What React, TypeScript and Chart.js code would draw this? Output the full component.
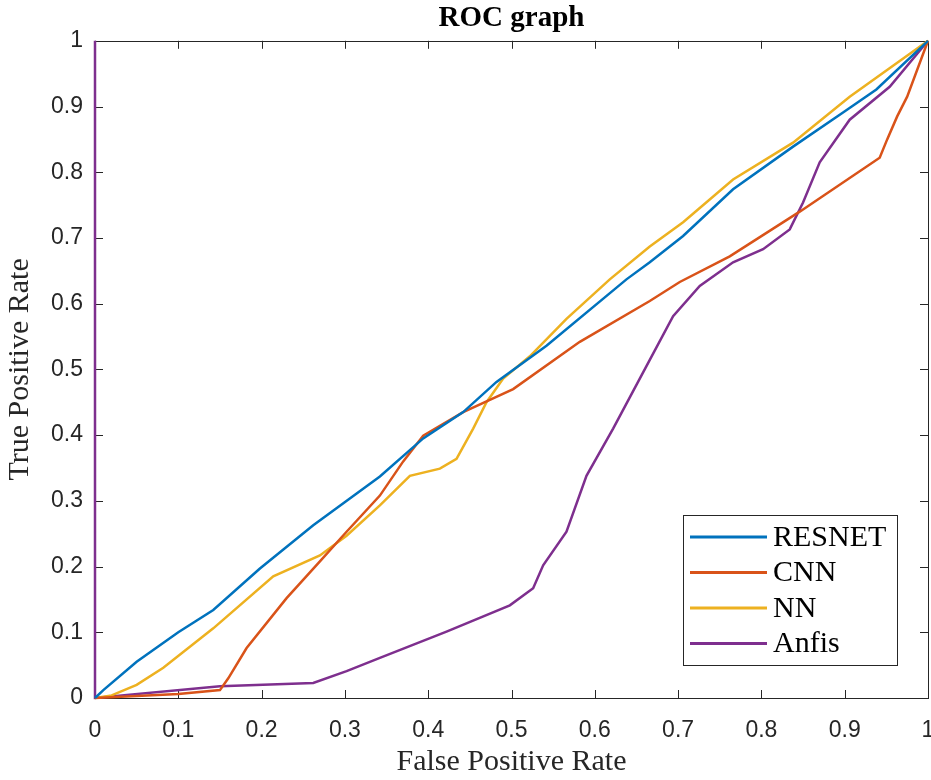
import React, { useEffect, useRef } from "react";
import { Chart, registerables } from "chart.js";

Chart.register(...registerables);

const seriesNames = ["RESNET", "CNN", "NN", "Anfis"];
const seriesColors = ["#0072BD", "#D95319", "#EDB120", "#7E2F8E"];

const resnetX = [0, 0.01, 0.05, 0.1, 0.142, 0.198, 0.262, 0.342, 0.394, 0.442, 0.482, 0.542, 0.638, 0.666, 0.706, 0.766, 0.838, 0.898, 0.938, 1];
const resnetY = [0, 0.012, 0.055, 0.1, 0.134, 0.197, 0.263, 0.337, 0.395, 0.435, 0.481, 0.536, 0.637, 0.663, 0.703, 0.774, 0.839, 0.891, 0.926, 1];

const cnnX = [0, 0.05, 0.1, 0.15, 0.16, 0.182, 0.23, 0.27, 0.302, 0.342, 0.37, 0.394, 0.442, 0.502, 0.582, 0.666, 0.702, 0.762, 0.846, 0.942, 0.951, 0.963, 0.975, 1];
const cnnY = [0, 0.003, 0.006, 0.012, 0.03, 0.076, 0.152, 0.208, 0.253, 0.308, 0.36, 0.399, 0.435, 0.47, 0.542, 0.604, 0.633, 0.672, 0.74, 0.822, 0.85, 0.885, 0.915, 1];

const nnX = [0, 0.02, 0.05, 0.082, 0.142, 0.214, 0.27, 0.302, 0.342, 0.378, 0.414, 0.434, 0.454, 0.47, 0.49, 0.522, 0.566, 0.618, 0.666, 0.706, 0.766, 0.838, 0.906, 1];
const nnY = [0, 0.004, 0.02, 0.046, 0.106, 0.185, 0.217, 0.247, 0.293, 0.338, 0.349, 0.364, 0.41, 0.45, 0.486, 0.52, 0.577, 0.637, 0.687, 0.724, 0.789, 0.845, 0.915, 1];

const anfisX = [0, 0, 0.15, 0.262, 0.302, 0.342, 0.422, 0.498, 0.526, 0.538, 0.566, 0.59, 0.622, 0.662, 0.694, 0.726, 0.766, 0.802, 0.834, 0.85, 0.87, 0.906, 0.954, 1];
const anfisY = [1, 0, 0.018, 0.023, 0.041, 0.061, 0.101, 0.141, 0.167, 0.202, 0.253, 0.338, 0.41, 0.505, 0.581, 0.627, 0.663, 0.683, 0.713, 0.754, 0.815, 0.88, 0.93, 1];

const tickValues = [0, 0.1, 0.2, 0.3, 0.4, 0.5, 0.6, 0.7, 0.8, 0.9, 1];
const tickLabels = ["0", "0.1", "0.2", "0.3", "0.4", "0.5", "0.6", "0.7", "0.8", "0.9", "1"];

const titleText = "ROC graph";
const xTitle = "False Positive Rate";
const yTitle = "True Positive Rate";

const toPoints = (xs: number[], ys: number[]) => xs.map((x, i) => ({ x, y: ys[i] }));

const boxPlugin = {
  id: "matlabBox",
  beforeDatasetsDraw(chart: any) {
    const { ctx, chartArea: a, scales } = chart;
    ctx.save();
    ctx.strokeStyle = "#262626";
    ctx.lineWidth = 1;
    ctx.strokeRect(Math.round(a.left) + 0.5, Math.round(a.top) + 0.5, Math.round(a.right - a.left), Math.round(a.bottom - a.top));
    const tl = 8;
    ctx.beginPath();
    tickValues.forEach((v) => {
      const px = Math.round(scales.x.getPixelForValue(v)) + 0.5;
      ctx.moveTo(px, a.bottom);
      ctx.lineTo(px, a.bottom - tl);
      ctx.moveTo(px, a.top);
      ctx.lineTo(px, a.top + tl);
      const py = Math.round(scales.y.getPixelForValue(v)) + 0.5;
      ctx.moveTo(a.left, py);
      ctx.lineTo(a.left + tl, py);
      ctx.moveTo(a.right, py);
      ctx.lineTo(a.right - tl, py);
    });
    ctx.stroke();
    ctx.restore();
  },
  afterDraw(chart: any) {
    const { ctx } = chart;
    const bx = 683, by = 515, bw = 214, bh = 150;
    ctx.save();
    ctx.fillStyle = "#ffffff";
    ctx.fillRect(bx, by, bw, bh);
    ctx.strokeStyle = "#262626";
    ctx.lineWidth = 1;
    ctx.strokeRect(bx + 0.5, by + 0.5, bw, bh);
    ctx.font = "30px 'Liberation Serif', 'Times New Roman', serif";
    ctx.textBaseline = "middle";
    ctx.textAlign = "left";
    chart.data.datasets.forEach((ds: any, i: number) => {
      const cy = by + 22 + i * 35.5;
      ctx.strokeStyle = ds.borderColor;
      ctx.lineWidth = 3;
      ctx.beginPath();
      ctx.moveTo(bx + 7, cy);
      ctx.lineTo(bx + 84, cy);
      ctx.stroke();
      ctx.fillStyle = "#000000";
      ctx.fillText(ds.label, bx + 90, cy + 1);
    });
    ctx.restore();
  },
};

export default function App() {
  const ref = useRef<HTMLCanvasElement | null>(null);
  useEffect(() => {
    document.body.style.margin = "0";
    const datasets = [
      toPoints(resnetX, resnetY),
      toPoints(cnnX, cnnY),
      toPoints(nnX, nnY),
      toPoints(anfisX, anfisY),
    ].map((data, i) => ({
      label: seriesNames[i],
      data,
      borderColor: seriesColors[i],
      backgroundColor: seriesColors[i],
      borderWidth: 2.5,
      pointRadius: 0,
      showLine: true,
      tension: 0,
      clip: 4,
    }));
    const tickFont = { family: "'Liberation Sans', Arial, sans-serif", size: 23 };
    const axisTitleFont = { family: "'Liberation Serif', 'Times New Roman', serif", size: 30 };
    const chart = new Chart(ref.current!, {
      type: "scatter",
      data: { datasets },
      plugins: [boxPlugin],
      options: {
        animation: false,
        responsive: false,
        layout: { padding: { left: 0, right: 3, top: 0, bottom: 0 } },
        plugins: {
          legend: { display: false },
          tooltip: { enabled: false },
          title: {
            display: true,
            text: titleText,
            fullSize: false,
            color: "#000000",
            font: { family: "'Liberation Serif', 'Times New Roman', serif", size: 29, weight: "bold" },
            padding: { top: 1, bottom: 5 },
          },
        },
        scales: {
          x: {
            type: "linear",
            min: 0,
            max: 1,
            grid: { display: false, drawTicks: false },
            border: { display: false },
            afterBuildTicks: (s: any) => { s.ticks = tickValues.map((v) => ({ value: v })); },
            ticks: {
              font: tickFont,
              color: "#262626",
              padding: 19,
              maxRotation: 0,
              autoSkip: false,
              callback: (v: any) => tickLabels[tickValues.indexOf(Number(v))] ?? "",
            },
            title: { display: true, text: xTitle, color: "#262626", font: axisTitleFont, padding: { top: 0, bottom: 0 } },
            afterFit: (s: any) => { s.height = 82; s.paddingLeft = 0; s.paddingRight = 0; },
          },
          y: {
            type: "linear",
            min: 0,
            max: 1,
            grid: { display: false, drawTicks: false },
            border: { display: false },
            afterBuildTicks: (s: any) => { s.ticks = tickValues.map((v) => ({ value: v })); },
            ticks: {
              font: tickFont,
              color: "#262626",
              padding: 12,
              autoSkip: false,
              callback: (v: any) => tickLabels[tickValues.indexOf(Number(v))] ?? "",
            },
            title: { display: true, text: yTitle, color: "#262626", font: axisTitleFont, padding: { top: 2, bottom: 0 } },
            afterFit: (s: any) => { s.width = 95; s.paddingTop = 0; s.paddingBottom = 0; },
          },
        },
      },
    } as any);
    return () => chart.destroy();
  }, []);
  return (
    <div style={{ width: 931, height: 780, background: "#ffffff" }}>
      <canvas ref={ref} width={931} height={780} style={{ display: "block" }} />
    </div>
  );
}
